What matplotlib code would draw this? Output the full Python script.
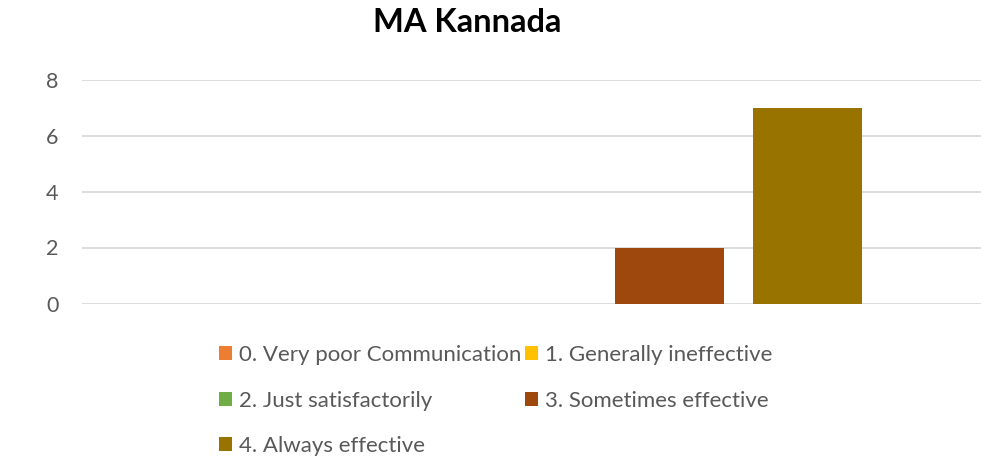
import matplotlib
matplotlib.use("Agg")
import matplotlib.pyplot as plt
from matplotlib.patches import Patch

plt.rcParams['font.family'] = ['Lato', 'DejaVu Sans']

title = "MA Kannada"
series = ["0. Very poor Communication", "1. Generally ineffective",
          "2. Just satisfactorily", "3. Sometimes effective", "4. Always effective"]
values = [0, 0, 0, 2, 7]
colors = ["#ED7D31", "#FFC000", "#70AD47", "#9E480E", "#997300"]
yticks = [0, 2, 4, 6, 8]

fig = plt.figure(figsize=(9.92, 4.59), dpi=100)
ax = fig.add_axes([82/992, 1-303.5/459, (981-82)/992, (303.5-79.5)/459])

x = list(range(len(values)))
bars = ax.bar(x, values, width=0.79, color=colors, zorder=3)

ax.set_ylim(0, 8)
ax.set_xlim(2-3.257, 2+3.257)
ax.set_yticks(yticks)
ax.set_yticklabels([str(t) for t in yticks])
ax.set_xticks([])
ax.grid(axis='y', color='#D9D9D9', linewidth=1.3, zorder=0)
for s in ax.spines.values():
    s.set_visible(False)
ax.tick_params(axis='y', length=0, pad=17, labelsize=15.5, labelcolor='#595959')

fig.text(467/992, 1-23/459, title, ha='center', va='center', fontsize=23.5,
         fontweight='bold', color='#000000')

handles = [Patch(facecolor=c, edgecolor='none') for c in colors]
order = [0, 2, 4, 1, 3]
leg = fig.legend([handles[i] for i in order], [series[i] for i in order],
                 ncol=2, loc='upper left', bbox_to_anchor=(219/992, 1-345/459),
                 frameon=False, fontsize=16, handlelength=0.6, handleheight=0.6,
                 handletextpad=0.3, columnspacing=0.15, labelspacing=1.15,
                 borderpad=0, borderaxespad=0)
for t in leg.get_texts():
    t.set_color('#595959')

fig.savefig("out.png", dpi=100)
